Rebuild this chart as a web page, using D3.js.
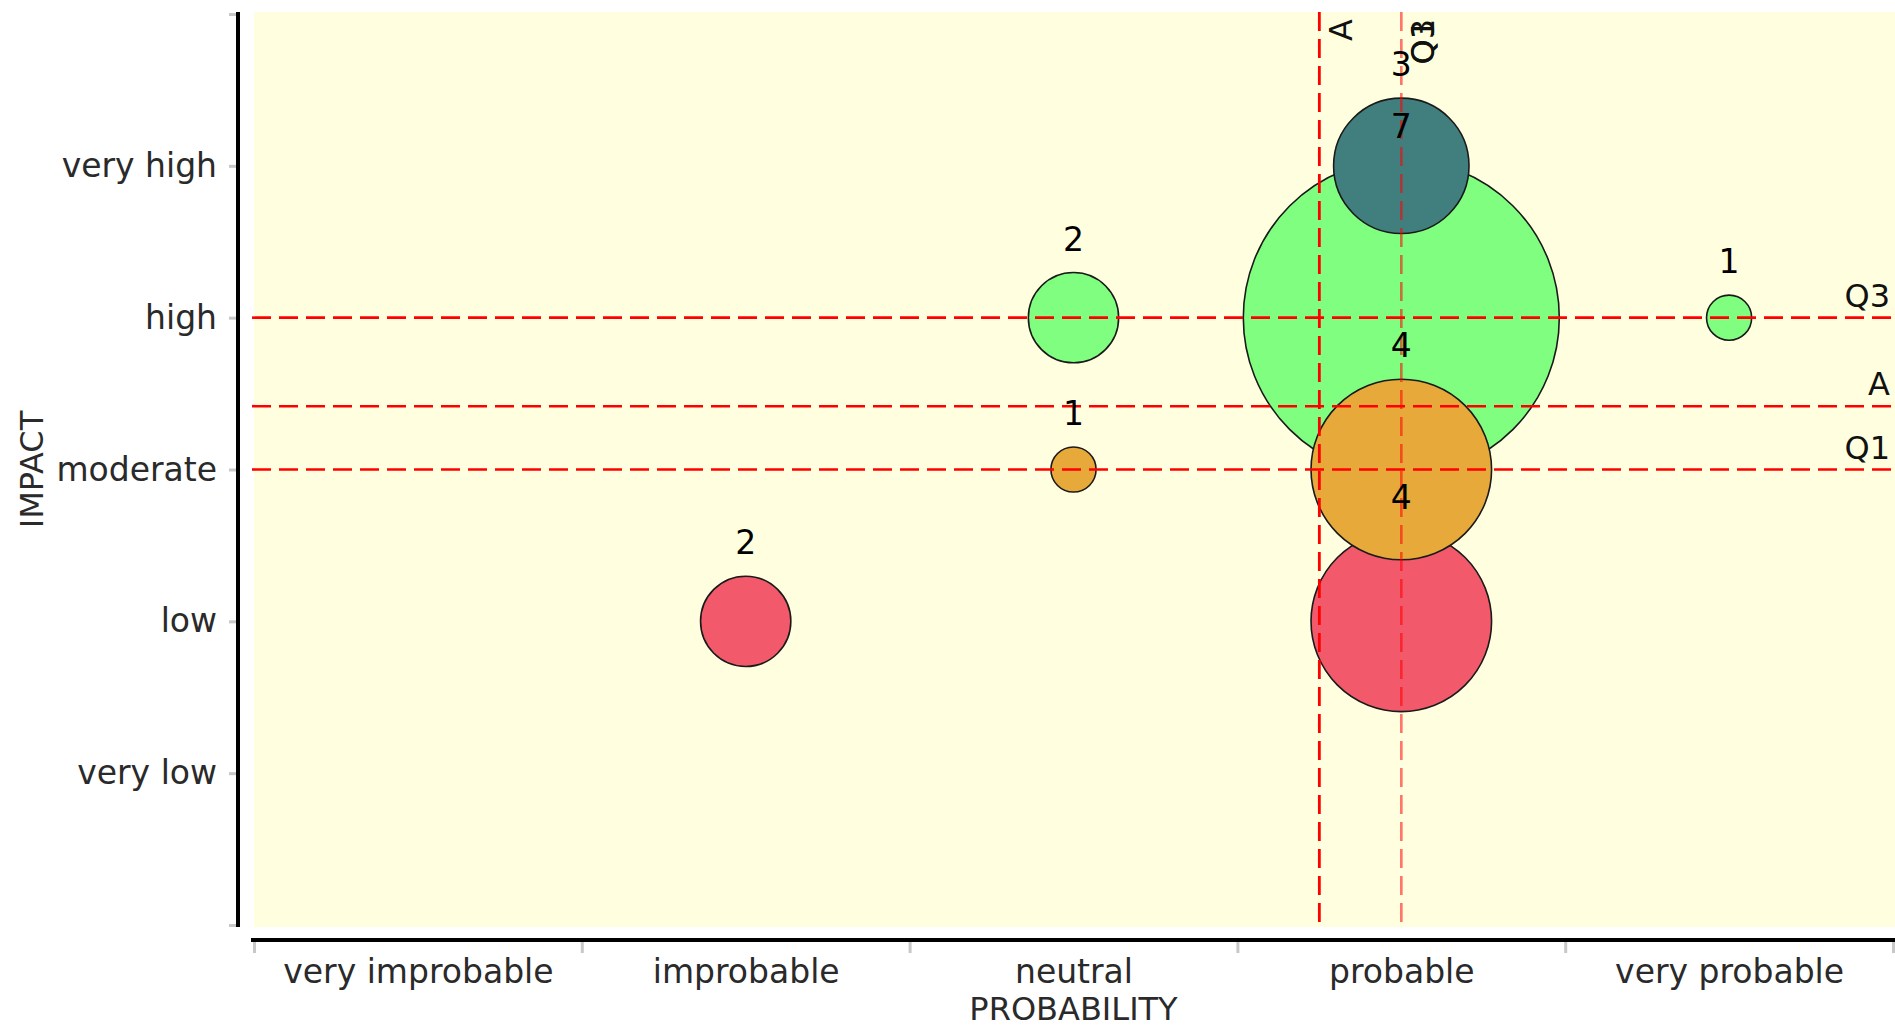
<!DOCTYPE html>
<html>
<head>
<meta charset="utf-8">
<script src="https://cdn.jsdelivr.net/npm/d3@7"></script>
<style>
  html, body { margin: 0; padding: 0; background: #ffffff; }
  svg { display: block; }
  text { font-family: "DejaVu Sans", sans-serif; }
</style>
</head>
<body>
<svg id="chart" width="1895" height="1029"></svg>
<script>
// ---- data ----
const probabilityLabels = ["very improbable", "improbable", "neutral", "probable", "very probable"];
const impactLabels = ["very low", "low", "moderate", "high", "very high"];

// bubbles: probability level (1-5), impact level (1-5), count, colour group
const bubbleProb   = [3, 4, 5, 2, 4, 3, 4, 4];
const bubbleImpact = [4, 4, 4, 2, 2, 3, 3, 5];
const bubbleCount  = [2, 7, 1, 2, 4, 1, 4, 3];
const bubbleGroup  = ["green", "green", "green", "red", "red", "orange", "orange", "teal"];

// reference lines (A = mean, Q1/Q3 = quartiles)
const vLineNames  = ["A", "Q1", "Q3"];
const vLineValues = [3.75, 4, 4];
const hLineNames  = ["Q3", "A", "Q1"];
const hLineValues = [4, 3.417, 3];

const groupColors = { green: "#80fe80", red: "#f2596b", orange: "#e6a93a", teal: "#417f7f" };

// ---- layout ----
const svg = d3.select("#chart");
const W = 1895, H = 1029;
const plot = { left: 254, right: 1895, top: 12, bottom: 927 };

const x = d3.scaleLinear().domain([0.5, 5.5]).range([254, 1893]);
const y = d3.scaleLinear().domain([0, 6]).range([925, 14]);
const r = d3.scaleLinear().domain([0, 7]).range([0, 158]);

// background
svg.append("rect").attr("x", 0).attr("y", 0).attr("width", W).attr("height", H).attr("fill", "#ffffff");
svg.append("rect")
  .attr("x", plot.left).attr("y", plot.top)
  .attr("width", plot.right - plot.left).attr("height", plot.bottom - plot.top)
  .attr("fill", "#ffffe0");

// ---- y axis ----
const yAxis = d3.axisLeft(y)
  .tickValues(d3.range(0, 7))
  .tickSize(7)
  .tickPadding(12)
  .tickFormat(d => (d >= 1 && d <= 5) ? impactLabels[d - 1] : "");
const gy = svg.append("g").attr("transform", "translate(236,0)").call(yAxis);
gy.select(".domain").remove();
gy.selectAll(".tick line").attr("stroke", "#c8c8c8").attr("stroke-width", 3);
gy.selectAll(".tick text").attr("fill", "#2a2a2a").style("font-size", "33px");
svg.append("line")
  .attr("x1", 238).attr("x2", 238).attr("y1", 12).attr("y2", 927)
  .attr("stroke", "#000").attr("stroke-width", 4);

// ---- x axis ----
const xTickAxis = d3.axisBottom(x)
  .tickValues(d3.range(0.5, 5.6, 1))
  .tickSize(11)
  .tickFormat("");
const gxt = svg.append("g").attr("transform", "translate(0,942)").call(xTickAxis);
gxt.select(".domain").remove();
gxt.selectAll(".tick line").attr("stroke", "#c8c8c8").attr("stroke-width", 3);

const xLabelAxis = d3.axisBottom(x)
  .tickValues(d3.range(1, 6))
  .tickSize(0)
  .tickPadding(0)
  .tickFormat(d => probabilityLabels[d - 1]);
const gxl = svg.append("g").attr("transform", "translate(0,942)").call(xLabelAxis);
gxl.select(".domain").remove();
gxl.selectAll(".tick text")
  .attr("y", 41).attr("dy", null)
  .attr("fill", "#2a2a2a").style("font-size", "33px");

svg.append("line")
  .attr("x1", 251).attr("x2", W).attr("y1", 940).attr("y2", 940)
  .attr("stroke", "#000").attr("stroke-width", 4);

// axis titles
svg.append("text")
  .attr("x", (254 + 1893) / 2).attr("y", 1020)
  .attr("text-anchor", "middle")
  .attr("fill", "#2a2a2a").style("font-size", "32px")
  .text("PROBABILITY");
svg.append("text")
  .attr("transform", `translate(43,${(14 + 925) / 2}) rotate(-90)`)
  .attr("text-anchor", "middle")
  .attr("fill", "#2a2a2a").style("font-size", "32px")
  .text("IMPACT");

// ---- bubbles ----
const bubbles = bubbleProb.map((p, i) => ({
  prob: p, impact: bubbleImpact[i], count: bubbleCount[i], group: bubbleGroup[i]
}));
const drawOrder = ["green", "red", "orange", "teal"];
const ordered = drawOrder.flatMap(g => bubbles.filter(b => b.group === g));

svg.append("g").selectAll("circle")
  .data(ordered)
  .join("circle")
  .attr("cx", d => x(d.prob))
  .attr("cy", d => y(d.impact))
  .attr("r", d => r(d.count))
  .attr("fill", d => groupColors[d.group])
  .attr("stroke", "#1a1a1a")
  .attr("stroke-width", 1.6);

// ---- reference lines ----
const lineG = svg.append("g");
hLineValues.forEach((v, i) => {
  lineG.append("line")
    .attr("x1", 252).attr("x2", W)
    .attr("y1", y(v)).attr("y2", y(v))
    .attr("stroke", "#ff0000").attr("stroke-width", 2.6)
    .attr("stroke-dasharray", "19,8");
  lineG.append("text")
    .attr("x", 1890).attr("y", y(v) - 11)
    .attr("text-anchor", "end")
    .attr("fill", "#111").style("font-size", "32px")
    .text(hLineNames[i]);
});
vLineValues.forEach((v, i) => {
  const isMean = vLineNames[i] === "A";
  lineG.append("line")
    .attr("x1", x(v)).attr("x2", x(v))
    .attr("y1", 12).attr("y2", 925)
    .attr("stroke", "#ff0000")
    .attr("stroke-opacity", isMean ? 1 : 0.32)
    .attr("stroke-width", isMean ? 2.8 : 2.6)
    .attr("stroke-dasharray", "19,8");
  lineG.append("text")
    .attr("transform", `translate(${x(v) + 33},19) rotate(-90)`)
    .attr("text-anchor", "end")
    .attr("fill", "#111").style("font-size", "32px")
    .text(vLineNames[i]);
});

// ---- count labels ----
svg.append("g").selectAll("text")
  .data(ordered)
  .join("text")
  .attr("x", d => x(d.prob))
  .attr("y", d => y(d.impact) - r(d.count) - 22)
  .attr("text-anchor", "middle")
  .attr("fill", "#000").style("font-size", "33px")
  .text(d => d.count);
</script>
</body>
</html>
